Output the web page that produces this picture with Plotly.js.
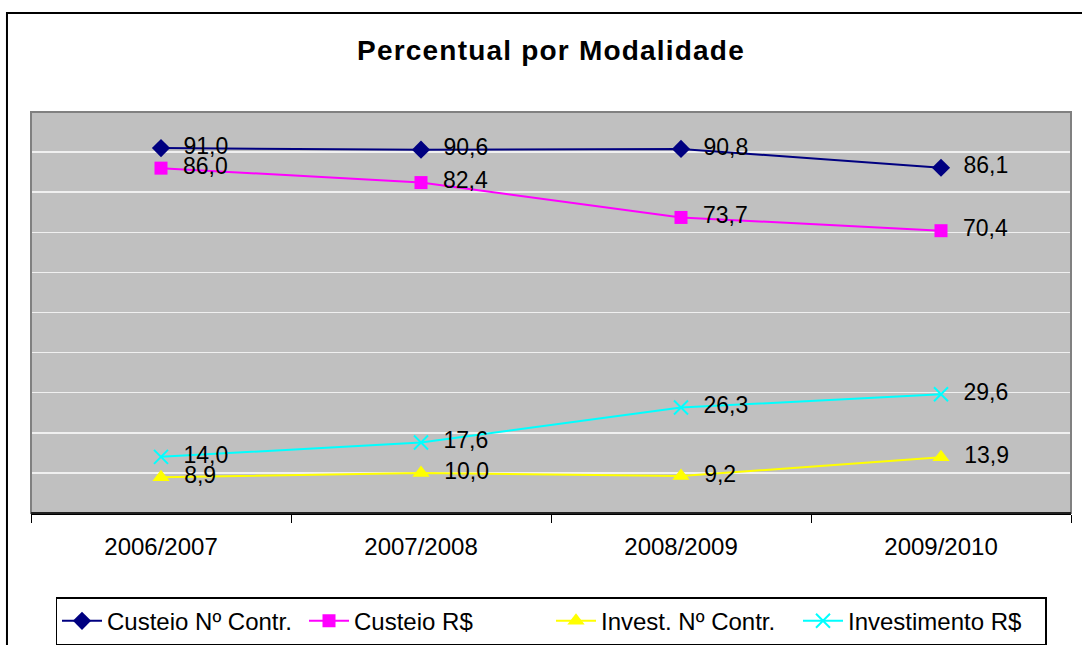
<!DOCTYPE html>
<html>
<head>
<meta charset="utf-8">
<script src="https://cdn.plot.ly/plotly-3.0.1.min.js"></script>
<style>
html,body{margin:0;padding:0;background:#fff;}
#chart{width:1082px;height:645px;}
.gtitle{letter-spacing:1.2px;}
</style>
</head>
<body>
<div id="chart"></div>
<script>
const categories = ["2006/2007", "2007/2008", "2008/2009", "2009/2010"];
const seriesNames = ["Custeio Nº Contr.", "Custeio R$", "Invest. Nº Contr.", "Investimento R$"];
const custeioNContr = [91.0, 90.6, 90.8, 86.1];
const custeioRS = [86.0, 82.4, 73.7, 70.4];
const investNContr = [8.9, 10.0, 9.2, 13.9];
const investimentoRS = [14.0, 17.6, 26.3, 29.6];

const styles = [
  {color: "#000080", symbol: "diamond", size: 14, lw: 0},
  {color: "#FF00FF", symbol: "square", size: 13, lw: 0},
  {color: "#FFFF00", symbol: "triangle-up", size: 15, lw: 0},
  {color: "#00FFFF", symbol: "x-thin-open", size: 14, lw: 2}
];
const values = [custeioNContr, custeioRS, investNContr, investimentoRS];

const traces = values.map((v, i) => ({
  type: "scatter",
  mode: "lines+markers+text",
  name: seriesNames[i],
  x: categories,
  y: v,
  texttemplate: "  %{y:.1f}",
  textposition: "middle right",
  textfont: {family: "Liberation Sans, Arial, sans-serif", size: 23, color: "#000"},
  line: {color: styles[i].color, width: 2},
  marker: {color: styles[i].color, symbol: styles[i].symbol, size: styles[i].size,
           line: {color: styles[i].color, width: styles[i].lw}},
  cliponaxis: false
}));

const layout = {
  width: 1082, height: 645,
  separators: ",.",
  margin: {l: 31, r: 11, t: 112, b: 132, autoexpand: false},
  paper_bgcolor: "#ffffff",
  plot_bgcolor: "#C0C0C0",
  font: {family: "Liberation Sans, Arial, sans-serif", color: "#000"},
  title: {text: "<b>Percentual por Modalidade</b>", xref: "paper", x: 0.5, xanchor: "center", y: 0.922, yanchor: "middle",
          font: {size: 28, color: "#000", family: "Liberation Sans, Arial, sans-serif"}},
  showlegend: true,
  legend: {orientation: "h", x: 0.5, xanchor: "center", y: -0.21, yanchor: "top",
           font: {size: 24, color: "#000"}, bordercolor: "#000", borderwidth: 1.5,
           bgcolor: "#fff", itemwidth: 40, tracegroupgap: 0,
           entrywidth: 192, entrywidthmode: "pixels"},
  xaxis: {type: "category", range: [-0.5, 3.5], showgrid: false, zeroline: false,
          showline: true, linecolor: "#000", linewidth: 1.5, mirror: false,
          ticks: "outside", ticklen: 8, tickcolor: "#000", tickwidth: 1, tickson: "boundaries",
          tickfont: {size: 24, color: "#000"}, ticklabelstandoff: 12, fixedrange: true},
  yaxis: {range: [0, 100], dtick: 10, showgrid: true, gridcolor: "#F0F0F0", gridwidth: 1.5,
          zeroline: false, showticklabels: false, ticks: "", showline: false, fixedrange: true},
  shapes: [
    {type: "rect", xref: "paper", yref: "paper", x0: 0, x1: 1, y0: 0, y1: 1,
     line: {color: "#808080", width: 2}, fillcolor: "rgba(0,0,0,0)", layer: "above"},
    {type: "line", xref: "paper", yref: "paper", x0: 0, x1: 1, y0: 0, y1: 0,
     line: {color: "#000", width: 1.5}, layer: "above"},
    {type: "rect", xref: "paper", yref: "paper", x0: -0.0231, x1: 1.05, y0: -0.4, y1: 1.247,
     line: {color: "#000", width: 2}, fillcolor: "rgba(0,0,0,0)", layer: "below"}
  ]
};

Plotly.newPlot("chart", traces, layout, {displayModeBar: false, staticPlot: true});
</script>
</body>
</html>
